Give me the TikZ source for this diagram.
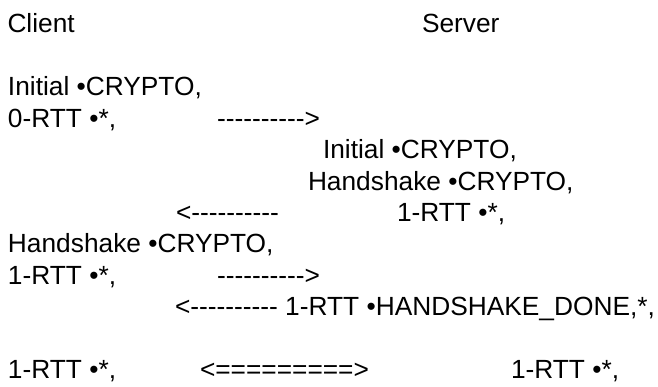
\documentclass[tikz,border=0pt]{standalone}
\usepackage{fontspec}
\setmainfont{Liberation Sans}
\newcommand\hy{\kern0pt-\kern0pt}
\newcommand\tendash{\hy\hy\hy\hy\hy\hy\hy\hy\hy\hy}
\tikzset{
  txt/.style={anchor=base west, inner sep=0pt, outer sep=0pt, font=\fontsize{26.3}{31.4}\selectfont},
}
\begin{document}
\begin{tikzpicture}[x=1pt,y=1pt]
\useasboundingbox (0,0) rectangle (658,386);
% row 1
\node[txt] (client) at (7.5,353) {Client};
\node[txt] (server) at (422,353) {Server};
% row 3
\node[txt] (c1) at (8,290.2) {Initial •CRYPTO,};
% row 4
\node[txt] (c2) at (8,258.8) {0-RTT •*,};
\node[txt] (a1) at (217,258.8) {\tendash>};
% row 5
\node[txt] (s1) at (323,227.4) {Initial •CRYPTO,};
% row 6
\node[txt] (s2) at (308,196) {Handshake •CRYPTO,};
% row 7
\node[txt] (a2) at (176,164.6) {<\tendash};
\node[txt] (s3) at (397,164.6) {1-RTT •*,};
% row 8
\node[txt] (c3) at (8,133.2) {Handshake •CRYPTO,};
% row 9
\node[txt] (c4) at (8,101.8) {1-RTT •*,};
\node[txt] (a3) at (217,101.8) {\tendash>};
% row 10
\node[txt] (s4) at (175,70.4) {<\tendash{} 1-RTT •HANDSHAKE\_DONE,*,};
% row 12
\node[txt] (c5) at (8,7.6) {1-RTT •*,};
\node[txt] (a4) at (200,7.6) {<=========>};
\node[txt] (s5) at (511,7.6) {1-RTT •*,};
\end{tikzpicture}
\end{document}
